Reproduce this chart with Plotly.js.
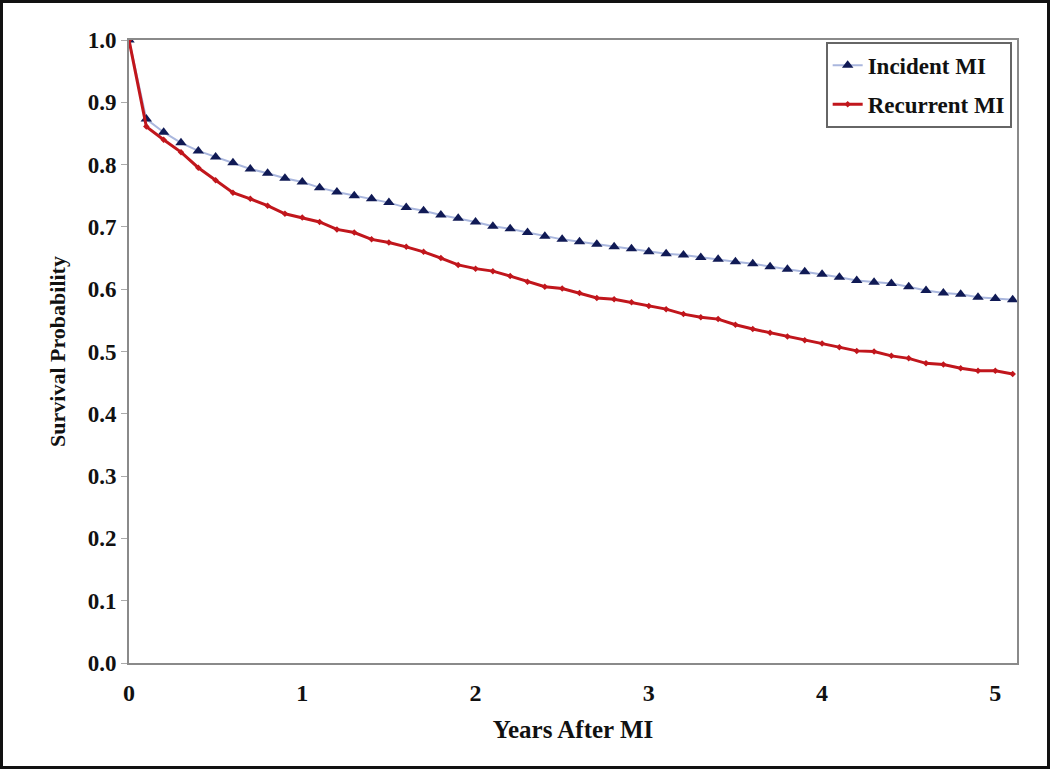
<!DOCTYPE html>
<html>
<head>
<meta charset="utf-8">
<script src="https://cdn.plot.ly/plotly-3.0.1.min.js"></script>
<style>
  html, body { margin: 0; padding: 0; background: #fff; }
  #frame { width: 1050px; height: 769px; box-sizing: border-box; border: 3px solid #111; background: #fff; }
  #chart { width: 1044px; height: 763px; }
</style>
</head>
<body>
<div id="frame"><div id="chart"></div></div>
<script>
// Years after MI (sampled every 0.1 year)
const years = [0.0,0.1,0.2,0.3,0.4,0.5,0.6,0.7,0.8,0.9,
               1.0,1.1,1.2,1.3,1.4,1.5,1.6,1.7,1.8,1.9,
               2.0,2.1,2.2,2.3,2.4,2.5,2.6,2.7,2.8,2.9,
               3.0,3.1,3.2,3.3,3.4,3.5,3.6,3.7,3.8,3.9,
               4.0,4.1,4.2,4.3,4.4,4.5,4.6,4.7,4.8,4.9,
               5.0,5.1];

const incidentMI = [1.000,0.873,0.852,0.835,0.822,0.812,0.803,0.793,0.786,0.778,
                    0.772,0.763,0.756,0.750,0.745,0.739,0.731,0.726,0.719,0.714,
                    0.708,0.701,0.697,0.691,0.685,0.680,0.676,0.672,0.668,0.665,
                    0.660,0.657,0.655,0.651,0.648,0.644,0.641,0.636,0.632,0.628,
                    0.624,0.619,0.614,0.611,0.609,0.604,0.598,0.594,0.592,0.587,
                    0.585,0.583];

const recurrentMI = [1.000,0.861,0.840,0.820,0.795,0.775,0.755,0.745,0.734,0.721,
                     0.715,0.708,0.696,0.691,0.680,0.675,0.668,0.660,0.650,0.639,
                     0.633,0.629,0.621,0.612,0.604,0.601,0.594,0.586,0.584,0.579,
                     0.573,0.568,0.560,0.555,0.552,0.543,0.536,0.530,0.524,0.518,
                     0.513,0.507,0.501,0.500,0.493,0.489,0.481,0.479,0.473,0.469,
                     0.469,0.464];

const seriesNames = ['Incident MI', 'Recurrent MI'];
const xTickVals = [0,1,2,3,4,5];
const yTickVals = [0,0.1,0.2,0.3,0.4,0.5,0.6,0.7,0.8,0.9,1.0];

const serif = '"Liberation Serif", "Times New Roman", serif';

const traces = [
  {
    x: years, y: incidentMI, name: seriesNames[0], type: 'scatter', mode: 'lines+markers',
    legendgroup: 'a',
    line: { color: '#aab7de', width: 2 },
    marker: { symbol: 'triangle-up', size: 10, color: '#101a55' }
  },
  {
    x: years, y: recurrentMI, name: seriesNames[1], type: 'scatter', mode: 'lines+markers',
    legendgroup: 'b',
    line: { color: '#c1161c', width: 3 },
    marker: { symbol: 'diamond', size: 5, color: '#c1161c' }
  }
];

const layout = {
  width: 1044, height: 763,
  margin: { l: 126, r: 30, t: 37, b: 103 },
  paper_bgcolor: '#fff', plot_bgcolor: '#fff',
  showlegend: true,
  font: { family: serif, color: '#111' },
  xaxis: {
    range: [0, 5.125],
    tickvals: xTickVals,
    ticktext: xTickVals.map(String),
    showgrid: false, zeroline: false,
    showline: true, linecolor: '#8a8a8a', linewidth: 2, mirror: true,
    ticks: '', ticklabelstandoff: 7,
    tickfont: { family: serif, size: 24, color: '#111', weight: 'bold' },
    title: { text: '<b>Years After MI</b>', font: { family: serif, size: 25, color: '#111' }, standoff: 16 }
  },
  yaxis: {
    range: [0, 1],
    tickvals: yTickVals,
    tickformat: '.1f',
    showgrid: false, zeroline: false,
    showline: true, linecolor: '#8a8a8a', linewidth: 2, mirror: true,
    ticks: 'outside', ticklen: 6, tickcolor: '#aaa', tickwidth: 1,
    tickfont: { family: serif, size: 23, color: '#111', weight: 'bold' },
    title: { text: '<b>Survival Probability</b>', font: { family: serif, size: 22, color: '#111' }, standoff: 16 }
  },
  legend: {
    x: 0.994, xanchor: 'right', y: 0.997, yanchor: 'top',
    bgcolor: '#fff', bordercolor: '#666', borderwidth: 2,
    traceorder: 'grouped', tracegroupgap: 6, itemwidth: 30,
    font: { family: serif, size: 23, color: '#111', weight: 'bold' }
  }
};

Plotly.newPlot('chart', traces, layout, { displayModeBar: false, staticPlot: true });
</script>
</body>
</html>
